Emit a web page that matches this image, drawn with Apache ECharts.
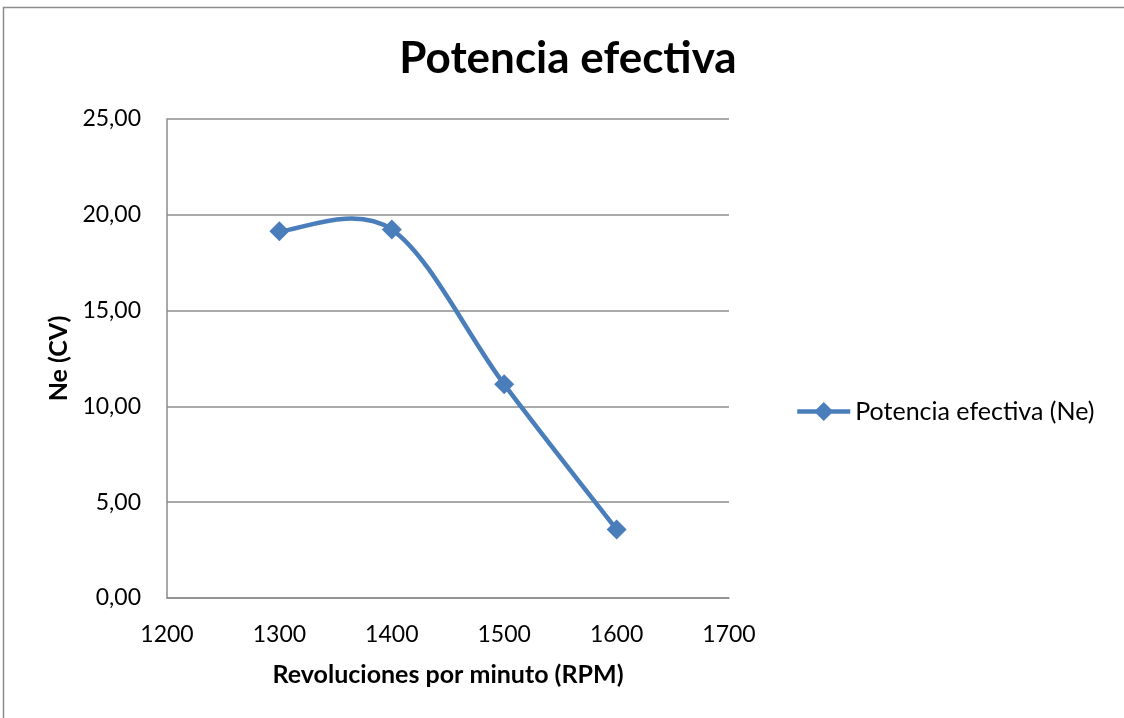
<!DOCTYPE html>
<html><head><meta charset="utf-8">
<script src="https://cdn.jsdelivr.net/npm/echarts@6/dist/echarts.min.js"></script>
<style>html,body{margin:0;padding:0;background:#fff}#c{width:1124px;height:718px}</style>
</head><body><div id="c"></div>
<script>
const rpm = [1300, 1400, 1500, 1600];
const ne = [19.14, 19.23, 11.15, 3.57];
const yTicks = [0, 5, 10, 15, 20, 25];
const xTicks = [1200, 1300, 1400, 1500, 1600, 1700];
const FONT = 'Lato, "Open Sans", sans-serif';
const COLOR = '#4a7ebb';
const SERIES = 'Potencia efectiva (Ne)';
const chart = echarts.init(document.getElementById('c'));

// Excel-style smoothed curve (Catmull-Rom -> Bezier), computed from data via axis scales
function renderCurve(params, api) {
  if (params.dataIndex !== 0) return null;
  const pts = rpm.map((x, i) => api.coord([x, ne[i]]));
  const n = pts.length;
  const P = i => pts[Math.max(0, Math.min(n - 1, i))];
  const path = [];
  path.push('M' + pts[0][0] + ' ' + pts[0][1]);
  for (let i = 0; i < n - 1; i++) {
    const p0 = P(i - 1), p1 = P(i), p2 = P(i + 1), p3 = P(i + 2);
    const c1 = [p1[0] + (p2[0] - p0[0]) / 6, p1[1] + (p2[1] - p0[1]) / 6];
    const c2 = [p2[0] - (p3[0] - p1[0]) / 6, p2[1] - (p3[1] - p1[1]) / 6];
    path.push('C' + c1[0] + ' ' + c1[1] + ' ' + c2[0] + ' ' + c2[1] + ' ' + p2[0] + ' ' + p2[1]);
  }
  return {type: 'path', shape: {pathData: path.join(' ')},
    style: {fill: 'none', stroke: COLOR, lineWidth: 4.5, lineCap: 'round', lineJoin: 'round'}};
}

chart.setOption({
  animation: false,
  backgroundColor: '#fff',
  graphic: [{type:'rect', shape:{x:3.5,y:7.5,width:1200,height:800}, style:{fill:'none', stroke:'#8c8c8c', lineWidth:1.5}, silent:true}],
  title: {text:'Potencia efectiva', left:563, top:32, textAlign:'center',
    textStyle:{fontFamily:FONT, fontSize:44, fontWeight:'bold', color:'#000'}},
  legend: {left:790, top:394, itemWidth:53, itemHeight:24,
    textStyle:{fontFamily:FONT, fontSize:25, color:'#000'},
    data:[{name:SERIES, lineStyle:{color:COLOR, width:4.5, opacity:1}, itemStyle:{color:COLOR}}]},
  grid: {left:167, top:119, width:562, height:479, containLabel:false},
  xAxis: {type:'value', min:xTicks[0], max:xTicks[xTicks.length-1], interval:100,
    name:'Revoluciones por minuto (RPM)', nameLocation:'middle', nameGap:64,
    nameTextStyle:{fontFamily:FONT, fontSize:25, fontWeight:'bold', color:'#000'},
    axisLine:{show:true, lineStyle:{color:'#8c8c8c', width:1.5}}, axisTick:{show:false},
    splitLine:{show:false},
    axisLabel:{fontFamily:FONT, fontSize:23, color:'#000', margin:25, formatter: v => String(v)}},
  yAxis: {type:'value', min:yTicks[0], max:yTicks[yTicks.length-1], interval:5,
    name:'Ne (CV)', nameLocation:'middle', nameGap:96, nameRotate:90,
    nameTextStyle:{fontFamily:FONT, fontSize:25, fontWeight:'bold', color:'#000'},
    axisLine:{show:true, lineStyle:{color:'#8c8c8c', width:1.5}}, axisTick:{show:false},
    splitLine:{show:true, lineStyle:{color:'#8c8c8c', width:1.5}},
    axisLabel:{fontFamily:FONT, fontSize:23, color:'#000', margin:26,
      formatter: v => v.toFixed(2).replace('.', ',')}},
  series: [
    {name:'curve', type:'custom', renderItem: renderCurve, itemStyle:{color:COLOR},
      data: rpm.map((x,i)=>[x, ne[i]]), z:2, silent:true},
    {name:SERIES, type:'line', data: rpm.map((x,i)=>[x, ne[i]]),
      symbol:'diamond', symbolSize:20, z:3,
      lineStyle:{color:COLOR, width:4.5, opacity:0}, itemStyle:{color:COLOR}}
  ]
});
</script></body></html>
